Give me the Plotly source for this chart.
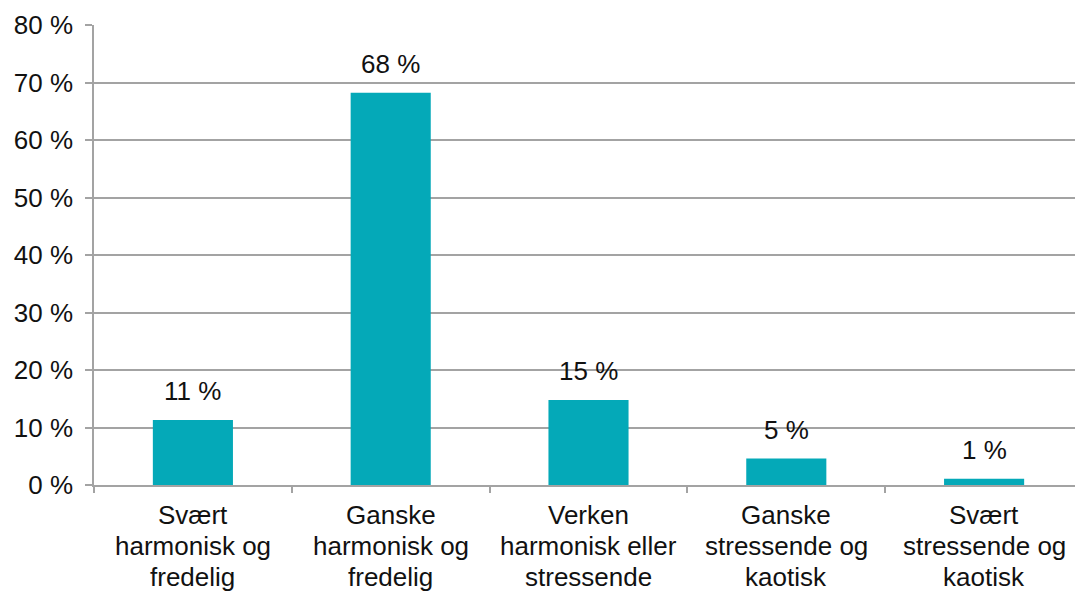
import plotly.graph_objects as go

categories = [
    "Svært harmonisk og fredelig",
    "Ganske harmonisk og fredelig",
    "Verken harmonisk eller stressende",
    "Ganske stressende og kaotisk",
    "Svært stressende og kaotisk",
]
category_lines = [
    ["Svært", "harmonisk og", "fredelig"],
    ["Ganske", "harmonisk og", "fredelig"],
    ["Verken", "harmonisk eller", "stressende"],
    ["Ganske", "stressende og", "kaotisk"],
    ["Svært", "stressende og", "kaotisk"],
]
values = [11.3, 68.2, 14.8, 4.6, 1.1]
labels = ["11 %", "68 %", "15 %", "5 %", "1 %"]
y_ticks = [0, 10, 20, 30, 40, 50, 60, 70, 80]

BAR = "#04A9B8"
GRID = "#A3A3A3"
FONT = "Liberation Sans, Arial, Helvetica, sans-serif"
TXT = "#111111"

fig = go.Figure()
fig.add_trace(go.Bar(x=categories, y=values, marker=dict(color=BAR, line=dict(width=0)),
                     width=0.405, hoverinfo="skip"))

for c, v, t in zip(categories, values, labels):
    fig.add_annotation(x=c, y=v, text=t, showarrow=False, yanchor="bottom",
                       yshift=12, font=dict(size=26, color=TXT, family=FONT))

# category labels, one line per annotation (tight line spacing as in the reference)
for c, lines in zip(categories, category_lines):
    for i, line in enumerate(lines):
        fig.add_annotation(x=c, y=0, yref="paper", text=line, showarrow=False,
                           yanchor="top", yshift=-(13 + i * 31),
                           font=dict(size=26, color=TXT, family=FONT))

fig.update_layout(
    width=1083, height=592,
    margin=dict(l=86, r=8, t=17, b=115),
    paper_bgcolor="white", plot_bgcolor="white",
    font=dict(family=FONT, size=26, color=TXT),
    showlegend=False,
)
fig.update_yaxes(
    range=[0, 80], tickvals=y_ticks, ticktext=[f"{v} %" for v in y_ticks],
    showgrid=True, gridcolor=GRID, gridwidth=1.5,
    showline=True, linecolor=GRID, linewidth=1.5,
    ticks="outside", ticklen=7, tickcolor=GRID, tickwidth=1.5,
    ticklabelstandoff=7, zeroline=False, automargin=False,
    tickfont=dict(size=26, family=FONT, color=TXT),
)
fig.update_xaxes(
    tickson="boundaries", ticks="outside", ticklen=6, tickcolor=GRID, tickwidth=1.5,
    showline=True, linecolor=GRID, linewidth=1.5, showgrid=False, automargin=False,
    showticklabels=False,
)

fig.write_html("out.html")
